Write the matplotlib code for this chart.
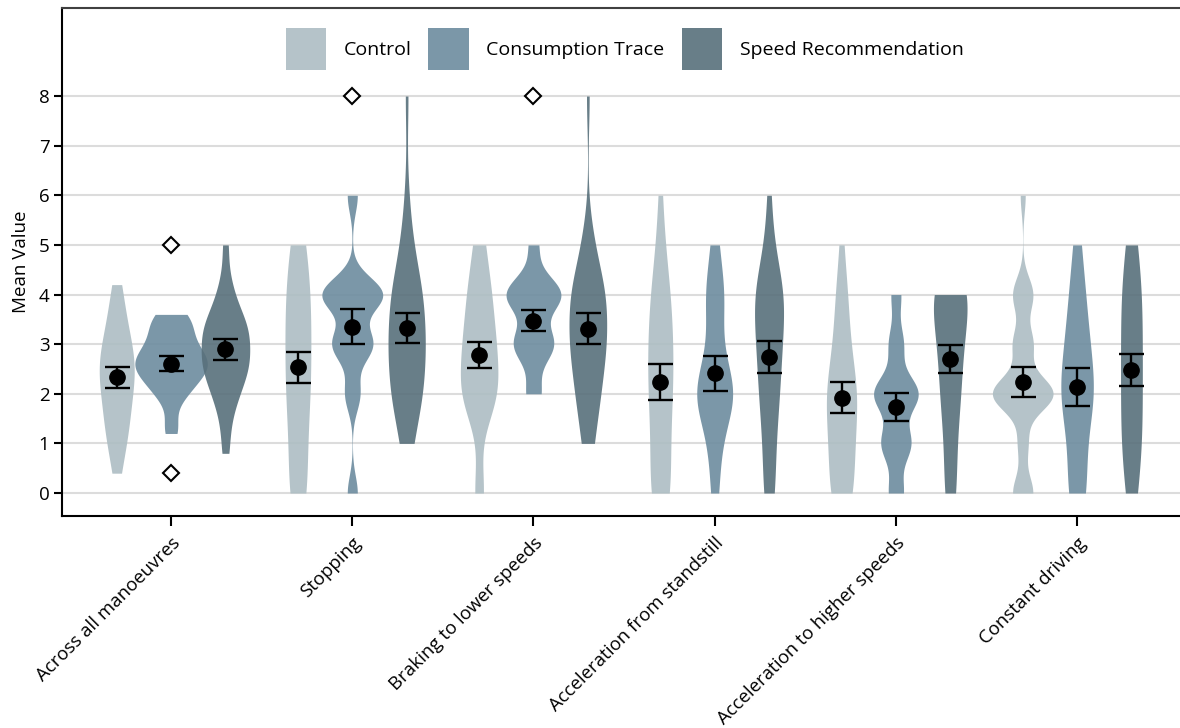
import numpy as np
import matplotlib
matplotlib.use("Agg")
import matplotlib.pyplot as plt
from matplotlib.patches import Patch

plt.rcParams['font.family'] = ['Open Sans', 'DejaVu Sans']

categories = ["Across all manoeuvres", "Stopping", "Braking to lower speeds",
              "Acceleration from standstill", "Acceleration to higher speeds",
              "Constant driving"]
conditions = ["Control", "Consumption Trace", "Speed Recommendation"]
colours = ["#adbdc3", "#6d8c9f", "#58707b"]

# per-participant means over all manoeuvres
across_control = [0.4, 0.8, 1.0, 1.2, 1.4, 1.5, 1.7, 1.8, 2.0, 2.2, 2.3, 2.3,
                  2.4, 2.6, 2.7, 2.8, 2.9, 3.0, 3.2, 3.4, 3.6, 3.9, 4.2]
across_trace = [1.2, 1.4, 1.9, 2.0, 2.1, 2.2, 2.3, 2.4, 2.4, 2.5, 2.5, 2.6,
                2.6, 2.7, 2.7, 2.8, 2.8, 2.9, 3.0, 3.1, 3.2, 3.3, 3.4, 3.5,
                3.6, 3.6]
across_speed = [0.8, 1.3, 1.7, 1.9, 2.0, 2.2, 2.3, 2.4, 2.5, 2.6, 2.6, 2.7,
                2.8, 2.9, 3.0, 3.1, 3.2, 3.3, 3.3, 3.4, 3.5, 3.6, 3.8, 4.0,
                4.3, 5.0]

# answer counts for the levels 0..8, rows = Control, Consumption Trace, Speed Rec.
levels = np.arange(0, 9)
stopping_counts = [[5, 4, 6, 6, 6, 4, 0, 0, 0],
                   [2, 0, 3, 8, 12, 0, 2, 0, 0],
                   [0, 3, 8, 9, 8, 3, 1, 0, 1]]
braking_counts = [[3, 0, 10, 8, 6, 3, 0, 0, 0],
                  [0, 0, 3, 8, 11, 2, 0, 0, 0],
                  [0, 3, 6, 9, 9, 3, 0, 0, 1]]
standstill_counts = [[6, 4, 6, 6, 5, 2, 1, 0, 0],
                     [2, 3, 11, 3, 5, 2, 0, 0, 0],
                     [3, 3, 5, 6, 8, 2, 1, 0, 0]]
higher_counts = [[6, 6, 8, 4, 3, 1, 0, 0, 0],
                 [3, 6, 9, 3, 2, 0, 0, 0, 0],
                 [3, 3, 5, 6, 10, 0, 0, 0, 0]]
constant_counts = [[4, 2, 12, 4, 4, 0, 1, 0, 0],
                   [5, 4, 9, 6, 4, 2, 0, 0, 0],
                   [3, 5, 5, 5, 5, 3, 0, 0, 0]]

# means and error bars
mean_control = [2.33, 2.53, 2.78, 2.24, 1.92, 2.24]
mean_trace = [2.61, 3.35, 3.47, 2.41, 1.73, 2.13]
mean_speed = [2.90, 3.32, 3.31, 2.74, 2.70, 2.48]
err_control = [0.21, 0.32, 0.26, 0.36, 0.31, 0.30]
err_trace = [0.16, 0.35, 0.21, 0.35, 0.28, 0.38]
err_speed = [0.21, 0.30, 0.31, 0.33, 0.28, 0.32]

# outliers left out of the violins
outlier_cat = [0, 0, 1, 2]
outlier_cond = [1, 1, 1, 1]
outlier_val = [5.0, 0.4, 8.0, 8.0]


def bw_nrd0(x):
    sd = np.std(x, ddof=1)
    iqr = np.subtract(*np.percentile(x, [75, 25])) / 1.34
    lo = min(sd, iqr) if iqr > 0 else sd
    return 0.9 * lo * len(x) ** -0.2


def kde(x):
    # gaussian density trimmed to the data range, scaled by n (count scaling)
    x = np.asarray(x, float)
    bw = bw_nrd0(x)
    grid = np.linspace(x.min(), x.max(), 512)
    dens = np.exp(-0.5 * ((grid[:, None] - x[None, :]) / bw) ** 2).sum(axis=1)
    dens /= bw * np.sqrt(2 * np.pi)
    return grid, dens


samples = [[across_control, across_trace, across_speed]]
for counts in [stopping_counts, braking_counts, standstill_counts,
               higher_counts, constant_counts]:
    samples.append([np.repeat(levels, c) for c in counts])

densities = [[kde(s) for s in row] for row in samples]
dmax = max(d.max() for row in densities for _, d in row)

fig = plt.figure(figsize=(11.8, 7.28), dpi=100)
ax = fig.add_axes([62 / 1180, 212 / 728, 1 - 62 / 1180, 508 / 728])

offsets = [-0.3, 0.0, 0.3]
half_width = 0.2
x_pos = np.arange(1, len(categories) + 1)

for i, row in enumerate(densities):
    for j, (grid, dens) in enumerate(row):
        xc = x_pos[i] + offsets[j]
        w = dens / dmax * half_width
        ax.fill_betweenx(grid, xc - w, xc + w, color=colours[j], alpha=0.9,
                         lw=0, zorder=2)

means = [mean_control, mean_trace, mean_speed]
errs = [err_control, err_trace, err_speed]
for j in range(3):
    ax.errorbar(x_pos + offsets[j], means[j], yerr=errs[j], fmt='o',
                color='black', ms=11, elinewidth=1.7, capsize=9,
                capthick=1.7, zorder=4)

ax.plot(x_pos[outlier_cat] + np.array(offsets)[outlier_cond], outlier_val,
        linestyle='none', marker='D', ms=8, mfc='white', mec='black',
        mew=1.5, zorder=4)

ax.set_xlim(0.398, 6.568)
ax.set_ylim(-0.463, 9.774)
ax.set_yticks(range(0, 9))
ax.set_xticks(x_pos)
ax.set_xticklabels(categories, rotation=45, ha='right', rotation_mode='anchor',
                   fontsize=13.4)
ax.tick_params(axis='y', labelsize=13.5, length=6, width=1.5, pad=3)
ax.tick_params(axis='x', length=7, width=1.5, pad=6)
ax.set_ylabel("Mean Value", fontsize=13.5, labelpad=6)
ax.yaxis.grid(True, color='#dcdcdc', lw=1.5, zorder=0)
ax.set_axisbelow(True)
ax.spines['right'].set_visible(False)
ax.spines['top'].set_color('#404040')
for s in ['left', 'bottom', 'top']:
    ax.spines[s].set_linewidth(1.5)

handles = [Patch(facecolor=c, alpha=0.9, edgecolor='none') for c in colours]
fig.legend(handles, conditions, loc='center', ncol=3,
           bbox_to_anchor=(624.5 / 1180, 1 - 49 / 728), frameon=False,
           fontsize=14, handlelength=2.1, handleheight=2.95,
           handletextpad=0.88, columnspacing=0.88)

fig.savefig("out.png", dpi=100)
